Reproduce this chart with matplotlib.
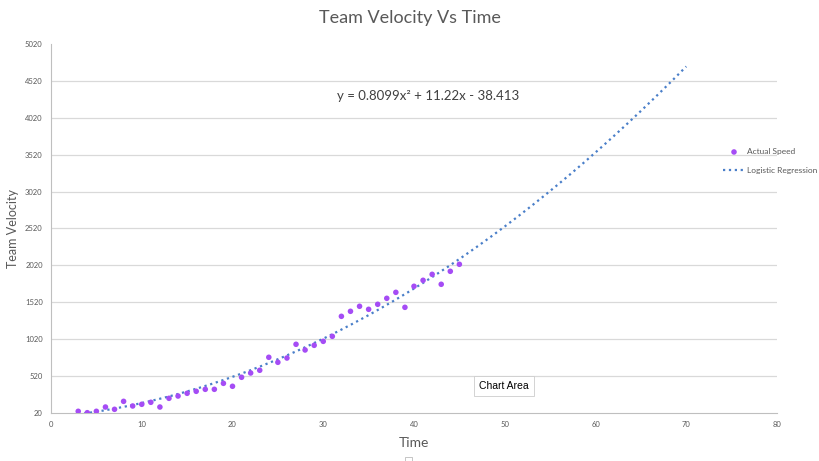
import numpy as np
import matplotlib.pyplot as plt
from matplotlib.patches import Rectangle

# Datos
time = list(range(3, 46))
speed = [43, 24, 43, 101, 70, 178, 115, 138, 165, 101,
         219, 250, 287, 314, 341, 341, 422, 382, 504, 562,
         599, 775, 707, 765, 951, 874, 937, 991, 1059, 1330,
         1398, 1466, 1425, 1493, 1574, 1655, 1452, 1737, 1818, 1899,
         1764, 1940, 2035]

# Coeficientes de la regresión mostrada en la gráfica
coef = [0.8099, 11.22, -38.413]
fit_start, fit_end = 3, 70

yticks = list(range(20, 5021, 500))
xticks = list(range(0, 81, 10))

clr_pts = '#a54cf5'
clr_fit = '#4a7fc9'
clr_txt = '#595959'
clr_grid = '#d9d9d9'

plt.rcParams['font.family'] = ['Lato', 'DejaVu Sans']

fig = plt.figure(figsize=(8.2, 4.61), dpi=100)
ax = fig.add_axes([51/820, 1 - 413/461, (777-51)/820, (413-44)/461])

xf = np.linspace(fit_start, fit_end, 400)
yf = np.polyval(coef, xf)
ax.plot(xf, yf, ':', color=clr_fit, linewidth=1.6, label='Logistic Regression', zorder=2)
ax.scatter(time, speed, s=16, color=clr_pts, edgecolors='none', label='Actual Speed', zorder=3)

ax.set_xlim(0, 80)
ax.set_ylim(20, 5020)
ax.set_xticks(xticks)
ax.set_yticks(yticks)
for yv in yticks[1:-1]:
    ax.axhline(yv, color=clr_grid, linewidth=0.9, zorder=0)

for s in ['top', 'right']:
    ax.spines[s].set_visible(False)
ax.spines['left'].set_color('#bfbfbf')
ax.spines['bottom'].set_color('#bfbfbf')
ax.tick_params(length=0, labelsize=5.5, labelcolor=clr_txt, pad=6)

ax.set_xlabel('Time', fontsize=10, color=clr_txt, labelpad=6)
ax.set_ylabel('Team Velocity', fontsize=9, color=clr_txt)
ax.yaxis.set_label_coords(-32/726, 0.5)
fig.text(0.5, 1 - 18/461, 'Team Velocity Vs Time', ha='center', va='center',
         fontsize=13, color=clr_txt)

ax.text(41.6, 4315, 'y = 0.8099x² + 11.22x - 38.413', ha='center', va='center',
        fontsize=9.5, color='#404040')

leg = ax.legend(handles=ax.get_legend_handles_labels()[0][::-1], loc='center left',
                bbox_to_anchor=(719/820, 1 - 161/461), bbox_transform=fig.transFigure,
                frameon=False, fontsize=6, handlelength=2.6, handletextpad=0.3,
                labelspacing=1.4, borderpad=0)
for t in leg.get_texts():
    t.set_color(clr_txt)

# Tooltip "Chart Area"
fig.text(504/820, 1 - 386/461, 'Chart Area', ha='center', va='center', fontsize=7.5,
         family=['Liberation Sans', 'DejaVu Sans'], color='black',
         bbox=dict(boxstyle='square,pad=0.5', fc='white', ec='#cccccc', lw=0.6))

fig.patches.append(Rectangle((405/820, 0), 7/820, 4/461, transform=fig.transFigure,
                             fill=False, ec='#bbbbbb', lw=0.6))

fig.savefig('out.png', dpi=100)
